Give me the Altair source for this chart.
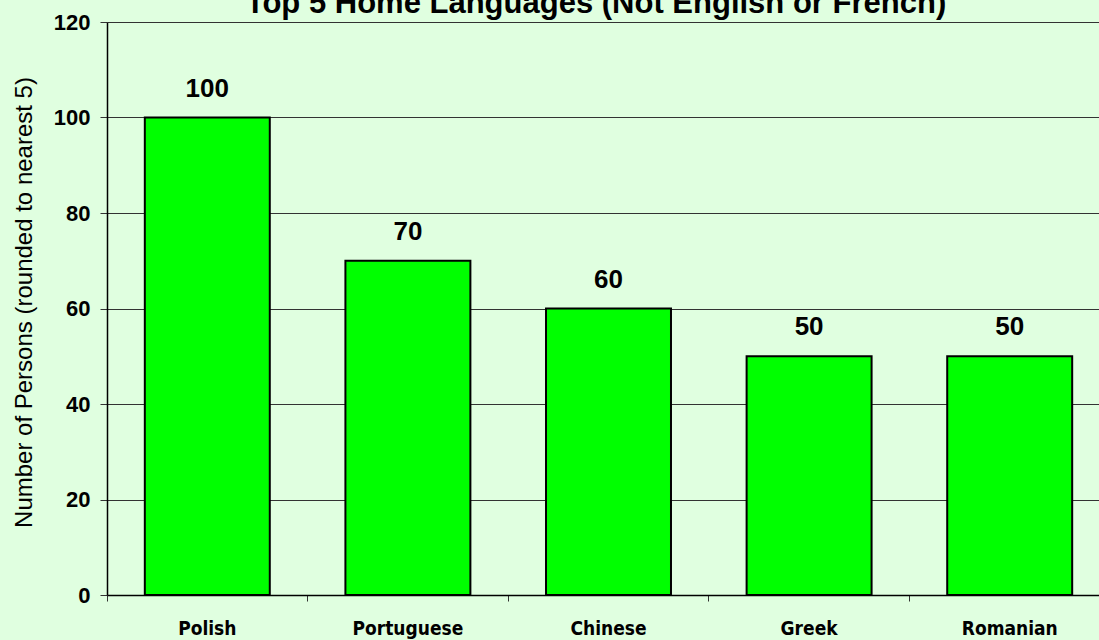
import altair as alt
import pandas as pd

languages = ["Polish", "Portuguese", "Chinese", "Greek", "Romanian"]
persons = [100, 70, 60, 50, 50]
y_ticks = [0, 20, 40, 60, 80, 100, 120]
title_text = "Top 5 Home Languages (Not English or French)"
y_title = "Number of Persons  (rounded to nearest 5)"

df = pd.DataFrame({"language": languages, "persons": persons})

x_enc = alt.X(
    "language:N",
    sort=languages,
    scale=alt.Scale(range=[0, 1003], paddingInner=0, paddingOuter=0),
    axis=alt.Axis(
        title=None,
        bandPosition=0,
        labelAngle=0,
        labelFont="DejaVu Sans Condensed",
        labelFontWeight="bold",
        labelFontSize=19,
        labelColor="#000000",
        labelPadding=18,
        tickSize=6,
        tickColor="#333333",
        domainColor="#000000",
        domainWidth=1.5,
        grid=False,
    ),
)

y_enc = alt.Y(
    "persons:Q",
    scale=alt.Scale(domain=[0, 120], nice=False),
    axis=alt.Axis(
        values=y_ticks,
        title=y_title,
        titleFont="Liberation Sans",
        titleFontWeight="normal",
        titleFontSize=24,
        titleColor="#000000",
        titleAngle=270,
        titleAlign="center",
        titleBaseline="alphabetic",
        titleX=-76,
        titleY=280,
        labelFont="Liberation Sans",
        labelFontWeight="bold",
        labelFontSize=22,
        labelColor="#000000",
        labelPadding=10,
        tickSize=7,
        tickColor="#333333",
        domainColor="#000000",
        domainWidth=1.5,
        grid=True,
        gridColor="#333333",
        gridWidth=1,
        gridOpacity=1,
    ),
)

base = alt.Chart(df)

bars = base.mark_bar(
    color="#00FF00",
    stroke="#000000",
    strokeWidth=2,
    width=alt.RelativeBandSize(0.623),
).encode(x=x_enc, y=y_enc)

labels = base.mark_text(
    font="Liberation Sans",
    fontWeight="bold",
    fontSize=26,
    color="#000000",
    baseline="alphabetic",
    align="center",
    dy=-21,
).encode(x=alt.X("language:N", sort=languages), y=alt.Y("persons:Q"), text=alt.Text("persons:Q"))

title = alt.Chart(pd.DataFrame({"t": [title_text]})).mark_text(
    font="Liberation Sans",
    fontWeight="bold",
    fontSize=31,
    color="#000000",
    baseline="alphabetic",
    align="center",
).encode(x=alt.value(489), y=alt.value(-9), text="t:N")

chart = alt.layer(bars, labels, title).properties(
    width=992,
    height=573,
    background="#E0FFE0",
    padding={"left": 107, "top": 22, "right": 0, "bottom": 45},
    autosize=alt.AutoSizeParams(type="none"),
).configure_view(stroke=None)

chart.save("out.html", embed_options={"renderer": "svg", "actions": False})
